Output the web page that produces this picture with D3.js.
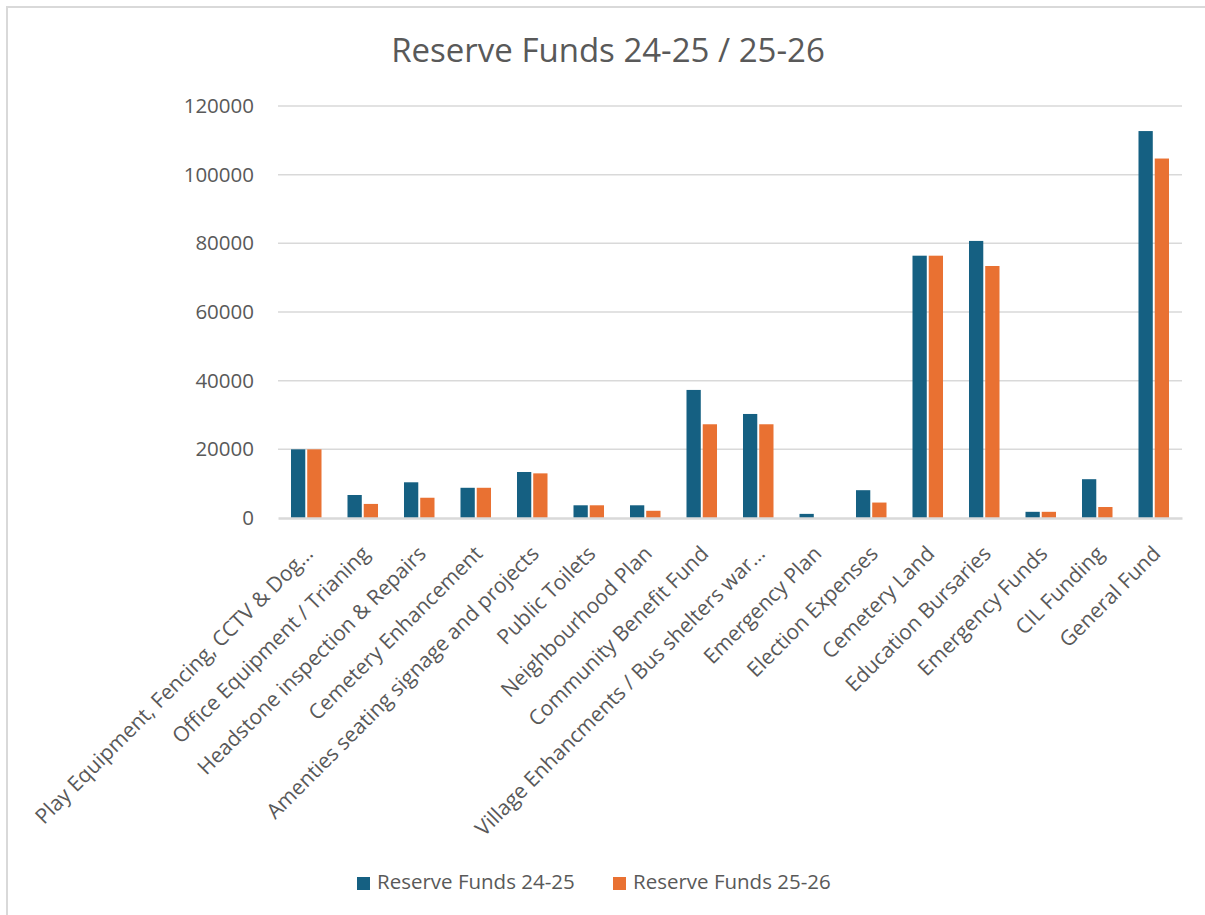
<html>
<head>
<style>
  body { margin: 0; background: white; font-family: "Open Sans", "Liberation Sans", sans-serif; }
  svg { display: block; }
</style>
<script src="https://d3js.org/d3.v7.min.js"></script>
</head>
<body>
<svg id="chart"></svg>
<script>
  // chart data
  let categories = [
    "Play Equipment, Fencing, CCTV & Dog\u2026",
    "Office Equipment / Trianing",
    "Headstone inspection & Repairs",
    "Cemetery Enhancement",
    "Amenties seating signage and projects",
    "Public Toilets",
    "Neighbourhood Plan",
    "Community Benefit Fund",
    "Village Enhancments / Bus shelters war\u2026",
    "Emergency Plan",
    "Election Expenses",
    "Cemetery Land",
    "Education Bursaries",
    "Emergency Funds",
    "CIL Funding",
    "General Fund"
  ];
  let funds2425 = [20000, 6700, 10400, 8800, 13400, 3700, 3700, 37300, 30300, 1200, 8100, 76400, 80700, 1800, 11300, 112700];
  let funds2526 = [20000, 4100, 5900, 8800, 13000, 3700, 2100, 27300, 27300, 0, 4500, 76400, 73400, 1800, 3200, 104700];
  let seriesNames = ["Reserve Funds 24-25", "Reserve Funds 25-26"];
  let seriesColors = ["#156082", "#E97132"];
  let yTicks = [0, 20000, 40000, 60000, 80000, 100000, 120000];

  let width = 1205, height = 915;
  let margin = { left: 278, right: 23, top: 106, bottom: 397 };
  let bodyWidth = width - margin.left - margin.right;
  let bodyHeight = height - margin.top - margin.bottom;

  let svg = d3.select("#chart").attr("width", width).attr("height", height);

  // chart area frame
  svg.append("path")
    .attr("d", `M7,${height + 5} V7 H${width + 5}`)
    .attr("fill", "none")
    .attr("stroke", "#d9d9d9")
    .attr("stroke-width", 2);

  svg.append("text")
    .attr("x", 608).attr("y", 62)
    .attr("text-anchor", "middle")
    .attr("fill", "#595959")
    .style("font-size", "33px")
    .text("Reserve Funds 24-25 / 25-26");

  let x = d3.scaleBand().domain(categories).range([0, bodyWidth]).paddingInner(0.46).paddingOuter(0.23);
  let xs = d3.scaleBand().domain(seriesNames).range([0, x.bandwidth()]).paddingInner(0.12);
  let y = d3.scaleLinear().domain([0, 120000]).range([bodyHeight, 0]);

  let body = svg.append("g").attr("transform", `translate(${margin.left},${margin.top})`);

  // gridlines
  body.append("g")
    .selectAll("line")
    .data(yTicks.filter(d => d > 0))
    .enter().append("line")
    .attr("x1", 0).attr("x2", bodyWidth)
    .attr("y1", d => y(d)).attr("y2", d => y(d))
    .attr("stroke", "#d9d9d9")
    .attr("stroke-width", 1.5);

  // y axis labels
  let axisY = d3.axisLeft(y).tickValues(yTicks).tickSize(0).tickPadding(24).tickFormat(d3.format("d"));
  body.append("g").call(axisY)
    .call(g => g.select(".domain").remove())
    .selectAll("text")
    .attr("fill", "#595959")
    .style("font-size", "20.5px")
    .style("font-family", "'Open Sans', sans-serif");

  // bars
  let rows = categories.map((c, i) => ({ cat: c, values: [funds2425[i], funds2526[i]] }));
  let groups = body.selectAll(".grp").data(rows).enter().append("g")
    .attr("transform", d => `translate(${x(d.cat)},0)`);
  groups.selectAll("rect")
    .data(d => d.values.map((v, k) => ({ key: seriesNames[k], value: v, color: seriesColors[k] })))
    .enter().append("rect")
    .attr("x", d => xs(d.key))
    .attr("width", xs.bandwidth())
    .attr("y", d => y(d.value))
    .attr("height", d => bodyHeight - y(d.value))
    .attr("fill", d => d.color);

  // x axis
  let axisX = d3.axisBottom(x).tickSize(0).tickPadding(0);
  let gx = body.append("g").attr("transform", `translate(0,${bodyHeight})`).call(axisX);
  gx.select(".domain").attr("stroke", "#d9d9d9").attr("stroke-width", 2.5);
  gx.selectAll("text")
    .attr("fill", "#595959")
    .style("font-size", "21px")
    .style("font-family", "'Open Sans', sans-serif")
    .attr("text-anchor", "end")
    .attr("dy", null)
    .attr("y", 0)
    .attr("transform", "translate(8,37) rotate(-45)");

  // legend
  let legend = svg.append("g").attr("transform", "translate(357,877)");
  let items = legend.selectAll("g").data(seriesNames).enter().append("g")
    .attr("transform", (d, i) => `translate(${i * 256},0)`);
  items.append("rect").attr("width", 13).attr("height", 13).attr("fill", (d, i) => seriesColors[i]);
  items.append("text").attr("x", 20).attr("y", 12)
    .attr("fill", "#595959")
    .style("font-size", "20.5px")
    .text(d => d);
</script>
</body>
</html>
